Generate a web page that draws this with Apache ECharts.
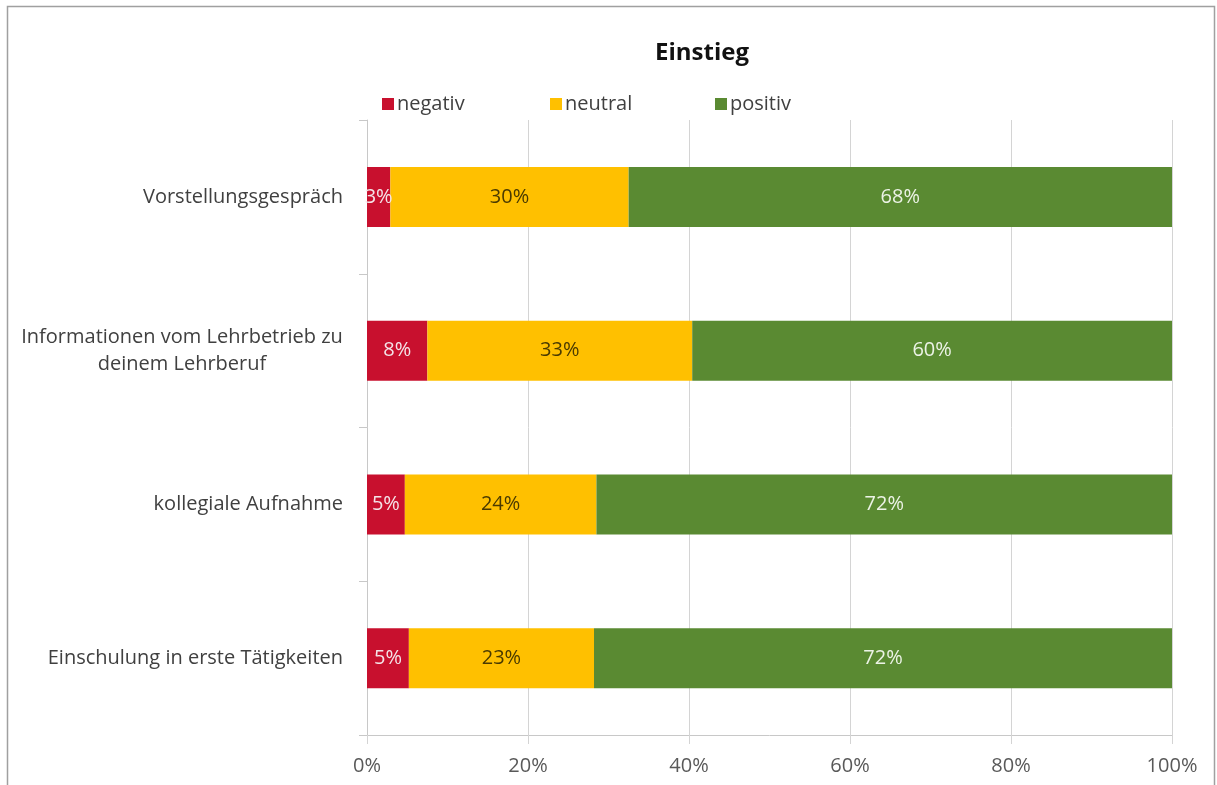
<!DOCTYPE html>
<html>
<head>
<meta charset="utf-8">
<script src="https://cdn.jsdelivr.net/npm/echarts@6/dist/echarts.min.js"></script>
<style>
  html, body { margin: 0; padding: 0; background: #fff; }
  #chart { width: 1217px; height: 785px; }
</style>
</head>
<body>
<div id="chart"></div>
<script>
// Survey items (top to bottom)
const categories = [
  'Vorstellungsgespräch',
  'Informationen vom Lehrbetrieb zu\ndeinem Lehrberuf',
  'kollegiale Aufnahme',
  'Einschulung in erste Tätigkeiten'
];
// Share of answers per item, in percent
const negativ = [2.9, 7.5, 4.7, 5.2];
const neutral = [29.6, 32.9, 23.8, 23.0];
const positiv = [67.5, 59.6, 71.5, 71.8];
const seriesNames = ['negativ', 'neutral', 'positiv'];
const xTicks = [0, 20, 40, 60, 80, 100];

const FONT = 'Open Sans';
const LABEL_SIZE = 20;
const chart = echarts.init(document.getElementById('chart'));

// width of the widest line of a multi-line category, for centred wrapping
const measureCtx = document.createElement('canvas').getContext('2d');
measureCtx.font = LABEL_SIZE + 'px "' + FONT + '"';
function textWidth(s) { return Math.ceil(measureCtx.measureText(s).width); }

function categoryLabel(v) {
  if (v.indexOf('\n') < 0) return v;
  return v.split('\n').map(s => '{c|' + s + '}').join('\n');
}
const wrapWidth = Math.max.apply(null, categories
  .filter(c => c.indexOf('\n') >= 0)
  .map(c => Math.max.apply(null, c.split('\n').map(textWidth))));

function pct(p) { return Math.round(p.value) + '%'; }

function bar(name, data, color, labelColor) {
  return {
    name: name,
    type: 'bar',
    stack: 'total',
    barWidth: 60,
    data: data,
    itemStyle: { color: color },
    label: {
      show: true,
      position: 'inside',
      formatter: pct,
      color: labelColor,
      fontFamily: FONT,
      fontSize: 20
    },
    emphasis: { disabled: true }
  };
}

// one legend block per series so the entries sit on a fixed spacing
const legendLefts = [377, 545, 710];
const legends = seriesNames.map((n, i) => ({
  left: legendLefts[i],
  top: 89,
  itemWidth: 12,
  itemHeight: 12,
  itemGap: 0,
  icon: 'rect',
  selectedMode: false,
  textStyle: { fontFamily: FONT, fontSize: 20, color: '#404040', padding: [0, 0, 0, -2] },
  data: [n]
}));

chart.setOption({
  backgroundColor: '#fff',
  animation: false,
  title: {
    text: 'Einstieg',
    left: 650,
    top: 36,
    textStyle: { fontFamily: FONT, fontSize: 24, fontWeight: 'bold', color: '#111' }
  },
  legend: legends,
  grid: { left: 367, right: 45, top: 120, bottom: 50, containLabel: false },
  xAxis: {
    type: 'value',
    min: xTicks[0],
    max: xTicks[xTicks.length - 1],
    interval: xTicks[1] - xTicks[0],
    axisLabel: {
      formatter: v => v + '%',
      fontFamily: FONT,
      fontSize: 20,
      color: '#595959',
      margin: 21
    },
    axisLine: { show: true, lineStyle: { color: '#c8c8c8', width: 1 } },
    axisTick: { show: true, length: 9, lineStyle: { color: '#d4d4d4' } },
    splitLine: { show: true, lineStyle: { color: '#d4d4d4', width: 1 } }
  },
  yAxis: {
    type: 'category',
    inverse: true,
    data: categories,
    axisLine: { show: true, lineStyle: { color: '#c8c8c8', width: 1 } },
    axisTick: { show: true, length: 8, lineStyle: { color: '#c8c8c8' } },
    axisLabel: {
      fontFamily: FONT,
      fontSize: LABEL_SIZE,
      color: '#404040',
      margin: 24,
      lineHeight: 27,
      formatter: categoryLabel,
      rich: {
        c: {
          width: wrapWidth,
          align: 'center',
          fontFamily: FONT,
          fontSize: LABEL_SIZE,
          color: '#404040',
          lineHeight: 27
        }
      }
    }
  },
  series: [
    bar('negativ', negativ, '#C8102E', '#f4e4e8'),
    bar('neutral', neutral, '#FFC000', '#4a3a00'),
    bar('positiv', positiv, '#5A8A32', '#ecf3e6')
  ],
  graphic: [{
    type: 'rect',
    shape: { x: 7.5, y: 6.5, width: 1207, height: 800 },
    style: { fill: null, stroke: '#a0a0a0', lineWidth: 1.5 },
    silent: true
  }]
});
</script>
</body>
</html>
